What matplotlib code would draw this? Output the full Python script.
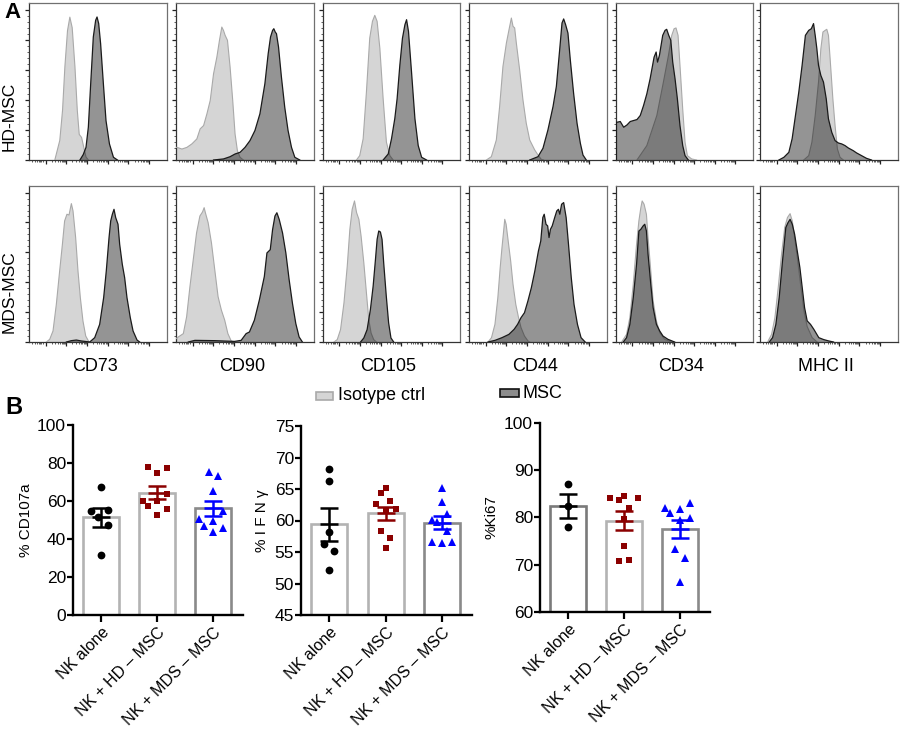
import numpy as np
import matplotlib
matplotlib.use("Agg")
import matplotlib.pyplot as plt
from matplotlib.patches import Rectangle

plt.rcParams['font.family'] = ['Liberation Sans', 'DejaVu Sans']

# ---------------- Panel A: flow histograms (x = % of axis width, y = % of max count) ----------
markers = ["CD73", "CD90", "CD105", "CD44", "CD34", "MHC II"]
rows = ["HD-MSC", "MDS-MSC"]

cd73_hd_iso = [(18.7,0),(22.3,13),(24.3,33),(26,62),(27.9,86),(29.6,95),(31.3,88),(33.3,62),(35,33),(36.4,17),(38.1,15),(39.8,8),(41.3,2),(43,0)]
cd73_hd_msc = [(36.9,0),(39.3,3.6),(41.3,8.4),(43,21.8),(44.7,50.7),(46.6,81.8),(48.3,92.9),(49.3,95.1),(50.5,90.7),(51.9,77.3),(53.9,50.7),(55.8,26.2),(58.3,10.7),(61.2,1.8),(64.1,0)]
cd90_hd_iso = [(0,8.4),(0.7,8.4),(4.3,7.3),(7.9,8.4),(11.5,10.7),(15.1,14),(17.5,20.7),(20,22.9),(22.4,30.7),(24.8,39.6),(27.2,57.3),(29.6,68.4),(31.5,79.6),(33.2,88.4),(34.4,86.2),(35.6,82.9),(37.3,79.6),(39.2,61.8),(41.1,39.6),(42.8,17.3),(44.5,6.2),(46.4,1.8),(48.8,0)]
cd90_hd_msc = [(27.2,0),(34.4,0.7),(39.2,2.2),(42.8,4),(46.4,5.1),(50,8.4),(53.6,12.9),(57.2,19.6),(60.8,30.7),(64.4,50.7),(66.8,70.7),(68.5,81.8),(70,86.2),(70.9,87.3),(71.9,85.1),(72.8,84),(74.3,75.1),(76.4,55.1),(78.8,35.1),(81.2,19.6),(83.7,8.4),(86.1,1.8),(89.7,0)]
cd105_hd_iso = [(24.4,0),(26.8,2.9),(29.3,14.1),(31.7,45.3),(34.1,81),(36.1,92.2),(37.8,96.2),(39.5,92.2),(41.5,74.3),(43.9,40.8),(46.3,11.8),(48.8,2.9),(51.2,0)]
cd105_hd_msc = [(43.9,0),(47.6,4),(50,14.1),(52.4,27.5),(54.1,40.8),(56.1,63.2),(58,81),(59.8,90),(61,93.3),(62.4,85.5),(64.6,58.7),(67.1,27.5),(69.5,9.6),(72,1.8),(75.6,0)]
cd44_hd_iso = [(12.6,0),(16.2,2.2),(19.8,13.3),(22.2,35.6),(24.6,62.2),(27.1,77.8),(29,86.7),(30.7,94.4),(31.9,88.9),(33.1,87.8),(34.3,77.8),(36.7,60),(39.1,40),(41.5,24.4),(44,13.3),(47.6,6.7),(50,3.3),(52.4,0.4),(54,0)]
cd44_hd_msc = [(44,0),(50,2.2),(53.6,7.8),(57.2,20),(60.9,35.6),(63.3,48.9),(65.7,73.3),(67.4,91.1),(68.6,93.8),(70,90),(71.7,84.4),(73.4,66.7),(75.8,44.4),(78.3,24.4),(80.7,11.1),(82.6,3.3),(85,0)]
cd34_hd_iso = [(15.3,0),(22.5,9.6),(29.8,29.6),(34.6,51.8),(38.3,69.6),(40.7,82.9),(42.4,87.3),(43.8,87.8),(45.3,82.9),(46.7,62.9),(48.7,33.8),(50.4,11.8),(52.1,2.9),(55.2,0.7),(58.8,0)]
cd34_hd_msc = [(0,25.1),(0.7,25.1),(3.1,25.6),(5.6,21.8),(8,23.3),(10.4,25.6),(15.3,26.9),(17.7,29.6),(20.1,36.2),(22.5,44),(24.9,54),(27.8,68.4),(29.3,71.8),(30.3,65.1),(31.7,69.6),(34.1,82.9),(35.8,86.2),(37,86.9),(38.5,82.9),(40,79.6),(41.4,65.1),(43.1,54),(44.8,40.7),(46.7,22.9),(48.7,9.6),(50.4,2.9),(52.8,0)]
mhc_hd_iso = [(31.7,0),(35.3,2.9),(37.6,11.8),(40,29.6),(42.4,51.8),(44.1,74),(45.6,85.1),(47.2,86.2),(48.4,86.9),(49.6,82.9),(50.8,67.6),(52.8,40.7),(54.4,22.9),(56.1,7.3),(58,1.8),(60.4,0)]
mhc_hd_msc = [(13.7,0),(17.3,1.8),(20.9,5.1),(23.3,14.2),(25.7,29.6),(28.1,45.1),(30.5,62.9),(32.9,82.9),(35.3,86.2),(37.2,87.3),(38.8,90.7),(40,82.9),(41.2,74),(42.4,62.9),(44.1,56.2),(46,51.8),(48,40.7),(49.6,27.3),(52,18.4),(54.4,12.9),(56.8,11.3),(59.2,10.7),(61.6,9.6),(64,8),(67.6,6.2),(70,4.7),(73.6,2.9),(77.2,1.1),(80.8,0)]

cd73_mds_iso = [(12.6,0),(15,1.8),(17.4,7.4),(19.8,25.2),(22.2,47.5),(24.2,65.4),(25.8,81),(27.5,85.5),(29,85),(30.7,92.6),(31.9,87.7),(33.8,69.9),(35.5,47.5),(37.2,29.7),(39.1,14.1),(41.1,4),(43.5,0)]
cd73_mds_msc = [(27.1,0),(30.7,0.9),(34.3,1.3),(37.9,0.7),(44,0),(47.6,2.9),(51.2,11.8),(54.1,29.7),(56,47.5),(58,69.9),(59.2,81),(60.4,85.5),(61.6,88.8),(62.8,83.3),(64.5,78.8),(65.7,65.4),(67.6,52),(69.3,43.1),(71,29.7),(73.4,16.3),(75.4,7.4),(78.3,1.3),(80.2,0)]
cd90_mds_iso = [(0,2.2),(1.7,3.4),(5.3,5.6),(7.7,16.9),(10.1,37.1),(12.5,55.1),(14.9,73),(17.3,84.3),(19.2,87),(20.4,89.9),(21.3,86.5),(23.3,79.8),(25.7,66.3),(28.1,48.3),(30.5,30.3),(32.9,21.3),(35.3,14.6),(37.6,5.6),(40,0.7),(42,0)]
cd90_mds_msc = [(8.9,0),(13.7,1.1),(28.1,0.9),(42.4,0.4),(47.2,1.1),(50.8,5.6),(53.2,6.7),(56.8,14.6),(60.4,28.1),(64,43.8),(65.9,59.6),(68.3,61.8),(70,75.3),(71.7,84.3),(73.1,86.5),(74.8,82),(77.2,73),(79.6,59.6),(82,41.6),(84.4,25.8),(86.8,12.4),(89.2,3.4),(91.6,0)]
cd105_mds_iso = [(8,0),(10.4,1.6),(12.8,8.3),(15.3,26.2),(17.7,50.8),(19.6,75.4),(21.3,88.8),(23,94.4),(24.5,86.6),(26.2,82.1),(27.8,70.9),(29.8,53),(31.7,32.9),(33.4,15),(35.1,6),(37,1.6),(39,0)]
cd105_mds_msc = [(27.4,0),(29.8,2.7),(32.2,8.3),(34.6,21.7),(36.6,37.4),(38.3,55.3),(39.5,68.7),(40.7,74.3),(41.9,73.6),(43.1,68.7),(44.3,53),(46.2,30.6),(47.9,12.8),(49.6,2.7),(51.6,0)]
cd44_mds_iso = [(13.8,0),(16.3,2.9),(18.8,11.8),(20.9,29.7),(22.6,49.8),(23.9,63.2),(25.1,74.3),(25.9,82.1),(26.9,78.8),(28.4,67.6),(30.2,54.2),(31.9,38.6),(33.9,25.2),(35.9,16.3),(37.7,9.6),(40.2,4),(42.7,0.7),(44,0)]
cd44_mds_msc = [(13.8,0),(18.8,1.1),(23.9,2.9),(28.9,5.1),(32.7,8.5),(35.2,11.8),(37.7,16.3),(40.2,19.6),(42.7,27.5),(45.2,36.4),(47.7,47.5),(50.3,60.9),(52,67.6),(53.5,83.3),(54.5,85.5),(55.8,78.8),(57,77.7),(58,69.9),(59,75.4),(60.3,77.7),(62.1,83.3),(63.6,87.7),(64.8,88.8),(65.8,85.5),(67.1,92.2),(68.6,93.3),(70.4,83.3),(72.1,65.4),(74.1,43.1),(76.1,25.2),(78.6,11.8),(81.2,2.9),(84.2,0)]
cd34_mds_iso = [(4.1,0),(7.7,5.1),(10.1,16.3),(12.6,38.6),(15,65.4),(16.7,81),(18.1,89.7),(19.1,94.4),(20.5,92.2),(22.2,85.5),(23.4,69.9),(25.4,47.5),(27.1,27.5),(29.5,14.1),(31.9,6.3),(35.5,1.8),(40.3,0)]
cd34_mds_msc = [(5.3,0),(7.7,2.9),(10.1,11.8),(12.6,29.7),(15,52),(16.7,74.3),(18.1,75.4),(19.8,77.7),(21,78.8),(22.2,74.3),(23.4,58.7),(25.4,38.6),(27.1,23),(29.5,11.8),(31.9,7.4),(34.3,4),(37.9,1.8),(42.8,0)]
mhc_mds_iso = [(5.5,0),(8.4,5.1),(10.8,16.3),(13.2,36.4),(15.6,58.7),(17.9,76.6),(19.9,83.3),(21.8,85.9),(23.4,81),(25.1,69.9),(27,56.5),(29.4,38.6),(31.8,20.8),(34.2,10.3),(37.8,2.9),(41.4,0)]
mhc_mds_msc = [(6.7,0),(9.1,2.9),(11.5,11.8),(13.9,29.7),(16.3,54.2),(18.7,76.6),(20.3,79.9),(21.8,82.1),(23.4,78.8),(25.1,72.1),(27,60.9),(28.9,49.8),(30.6,36.4),(32.3,23),(34.2,14.1),(36.6,11.8),(39,8.5),(42.6,2.9),(46.2,1.6),(49.8,0.7),(53.3,0)]

hd_iso = [cd73_hd_iso, cd90_hd_iso, cd105_hd_iso, cd44_hd_iso, cd34_hd_iso, mhc_hd_iso]
hd_msc = [cd73_hd_msc, cd90_hd_msc, cd105_hd_msc, cd44_hd_msc, cd34_hd_msc, mhc_hd_msc]
mds_iso = [cd73_mds_iso, cd90_mds_iso, cd105_mds_iso, cd44_mds_iso, cd34_mds_iso, mhc_mds_iso]
mds_msc = [cd73_mds_msc, cd90_mds_msc, cd105_mds_msc, cd44_mds_msc, cd34_mds_msc, mhc_mds_msc]

# ---------------- Panel B: functional assays ----------------
groups = ["NK alone", "NK + HD – MSC", "NK + MDS – MSC"]
cd107a_nk = [67.5, 54.9, 55.3, 51.4, 47.4, 31.4]
cd107a_hd = [78.1, 77.5, 74.6, 63.5, 60.2, 60.0, 57.4, 55.6, 52.6]
cd107a_mds = [75.4, 73.3, 65.3, 54.7, 50.4, 49.6, 47.0, 46.0, 43.5]
ifng_nk = [68.2, 66.2, 58.2, 56.3, 55.2, 52.2]
ifng_hd = [65.2, 64.3, 63.1, 62.6, 61.7, 61.9, 58.3, 57.3, 55.7]
ifng_mds = [65.2, 62.9, 61.0, 60.1, 59.8, 58.3, 56.6, 56.5, 56.6]
ki67_nk = [87.0, 82.4, 78.0]
ki67_hd = [84.1, 83.8, 84.6, 84.1, 82.0, 79.7, 73.9, 70.7, 71.1]
ki67_mds = [82.0, 81.0, 81.8, 83.1, 79.9, 79.4, 73.4, 71.4, 66.4]

# horizontal scatter offsets of the points (category units)
cd107a_dx = [[0, -0.18, 0.12, -0.06, 0.12, 0],
             [-0.17, 0.17, 0, 0.17, -0.26, 0, -0.17, 0.17, 0],
             [-0.08, 0.09, 0, 0.17, -0.26, 0, -0.17, 0.18, 0]]
ifng_dx = [[0, 0, 0, -0.1, 0.08, 0],
           [0, -0.09, 0.08, -0.17, 0, 0.18, -0.09, 0.08, 0],
           [0, 0, 0.08, -0.17, -0.09, 0.08, -0.18, 0, 0.17]]
ki67_dx = [[0, 0, 0],
           [-0.26, -0.09, 0, 0.25, 0.08, 0, 0, -0.09, 0.08],
           [-0.27, -0.18, 0, 0.17, 0.17, 0, -0.09, 0.08, 0]]

W, H = 900, 729
fig = plt.figure(figsize=(W / 100, H / 100), dpi=100)


def add_ax(left, top, right, bottom):
    return fig.add_axes([left / W, 1 - bottom / H, (right - left) / W, (bottom - top) / H])


cols = [(29, 167), (176, 314), (323, 460), (469, 607), (616, 753), (760, 898)]
row_y = [(3, 160), (186, 342)]
ISO_FILL, ISO_EDGE = '#d5d5d5', '#a9a9a9'


def draw_hist(ax, iso, msc):
    ix, iy = zip(*iso)
    mx, my = zip(*msc)
    ax.fill_between(ix, iy, 0, facecolor=ISO_FILL, edgecolor='none', zorder=2)
    ax.plot(ix, iy, color=ISO_EDGE, lw=0.8, zorder=3)
    ax.fill_between(mx, my, 0, facecolor='black', alpha=0.42, edgecolor='none', zorder=4)
    ax.plot(mx, my, color='#1a1a1a', lw=0.9, zorder=5)
    ax.set_xlim(0, 100)
    ax.set_ylim(0, 104.4)
    ax.set_yticks(np.arange(0, 101, 20))
    ax.set_yticks(np.arange(0, 101, 4), minor=True)
    majors = [12, 27, 42, 57, 72, 87]
    minors = [m + 15 * np.log10(k) for m in majors[:-1] for k in range(2, 10)]
    minors += [2, 4, 6, 7, 8, 9, 10]
    ax.set_xticks(majors)
    ax.set_xticks(minors, minor=True)
    ax.tick_params(which='major', direction='out', length=3, width=0.9, color='#222',
                   labelleft=False, labelbottom=False)
    ax.tick_params(which='minor', direction='out', length=1.6, width=0.6, color='#444')
    for s in ax.spines.values():
        s.set_color('#707070')
        s.set_linewidth(0.9)
    ax.spines['left'].set_color('#333')
    ax.spines['bottom'].set_color('#333')


for r, (iso_list, msc_list) in enumerate([(hd_iso, hd_msc), (mds_iso, mds_msc)]):
    top, bottom = row_y[r]
    for c in range(6):
        ax = add_ax(cols[c][0], top, cols[c][1], bottom)
        draw_hist(ax, iso_list[c], msc_list[c])

for c, name in enumerate(markers):
    cx = (cols[c][0] + cols[c][1]) / 2 - 3
    fig.text(cx / W, 1 - 366 / H, name, ha='center', va='center', fontsize=13)

fig.text(9 / W, 1 - 116 / H, rows[0], rotation=90, ha='center', va='center', fontsize=12.5)
fig.text(9 / W, 1 - 292 / H, rows[1], rotation=90, ha='center', va='center', fontsize=12.5)
fig.text(4 / W, 1 - 2 / H, 'A', fontsize=16, fontweight='bold', ha='left', va='top')
fig.text(5 / W, 1 - 407 / H, 'B', fontsize=17, fontweight='bold', ha='left', va='center')

# legend
fig.patches.append(Rectangle((316 / W, 1 - 400 / H), 17 / W, 8 / H, transform=fig.transFigure,
                             facecolor=ISO_FILL, edgecolor=ISO_EDGE, lw=1.2))
fig.text(338 / W, 1 - 396 / H, 'Isotype ctrl', fontsize=13, ha='left', va='center')
fig.patches.append(Rectangle((500 / W, 1 - 397 / H), 19 / W, 8 / H, transform=fig.transFigure,
                             facecolor='#8c8c8c', edgecolor='#111', lw=1.2))
fig.text(522 / W, 1 - 393 / H, 'MSC', fontsize=13, ha='left', va='center')

# ---------------- Panel B drawing ----------------
pt_colors = ['black', '#8b0000', '#0000ff']
pt_markers = ['o', 's', '^']
pt_sizes = [5.6, 5.0, 6.0]


def draw_bar(ax, data, dxs, edge_cols, ylim, yticks, ylabel):
    x = np.arange(3)
    means = [np.mean(d) for d in data]
    sems = [np.std(d, ddof=1) / np.sqrt(len(d)) for d in data]
    ax.bar(x, means, width=0.64, color='white', edgecolor=edge_cols, linewidth=1.9, zorder=1)
    for i, d in enumerate(data):
        ax.plot(i + np.array(dxs[i]), d, linestyle='none', marker=pt_markers[i],
                color=pt_colors[i], markersize=pt_sizes[i], markeredgewidth=0, zorder=3,
                clip_on=False)
        m, s = means[i], sems[i]
        ax.vlines(i, m - s, m + s, color=pt_colors[i], lw=1.8, zorder=4)
        ax.hlines([m - s, m, m + s], i - 0.16, i + 0.16, color=pt_colors[i], lw=1.8, zorder=4)
    ax.set_xlim(-0.5, 2.53)
    ax.set_ylim(*ylim)
    ax.set_yticks(yticks)
    ax.set_xticks(x)
    ax.set_xticklabels(groups, rotation=45, ha='right', rotation_mode='anchor', fontsize=11.6)
    ax.tick_params(axis='y', labelsize=12.5, length=4, width=1.6, pad=1)
    ax.tick_params(axis='x', length=5, width=1.6, pad=2)
    for s in ['top', 'right']:
        ax.spines[s].set_visible(False)
    for s in ['left', 'bottom']:
        ax.spines[s].set_linewidth(1.7)
    ax.set_ylabel(ylabel, fontsize=11)


ax1 = add_ax(73, 425, 243, 615)
draw_bar(ax1, [cd107a_nk, cd107a_hd, cd107a_mds], cd107a_dx,
         ['#b3b3b3', '#b3b3b3', '#8a8a8a'], (0, 100), np.arange(0, 101, 20), '% CD107a')
ax1.yaxis.set_label_coords(-0.235, 0.5)

ax2 = add_ax(301, 426, 472, 615)
draw_bar(ax2, [ifng_nk, ifng_hd, ifng_mds], ifng_dx,
         ['#b3b3b3', '#b3b3b3', '#8a8a8a'], (45, 75), np.arange(45, 76, 5), '% I F N γ')
ax2.yaxis.set_label_coords(-0.19, 0.5)

ax3 = add_ax(540, 423, 710, 612)
draw_bar(ax3, [ki67_nk, ki67_hd, ki67_mds], ki67_dx,
         ['#7a7a7a', '#b3b3b3', '#8a8a8a'], (60, 100), np.arange(60, 101, 10), '%Ki67')
ax3.yaxis.set_label_coords(-0.245, 0.5)

fig.savefig('out.png', dpi=100)
